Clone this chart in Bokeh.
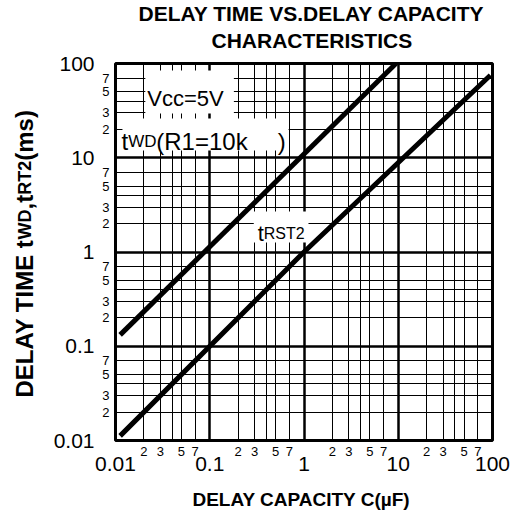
import math
from bokeh.plotting import figure
from bokeh.layouts import row
from bokeh.models import LogAxis, FixedTicker, Label, BoxAnnotation, Range1d, Title, ColumnDataSource
from bokeh.core.properties import value
from bokeh.embed import file_html
from bokeh.resources import INLINE

# ---------------- data ----------------
cap_twd = [0.0112, 9.46]          # C (uF)
time_twd = [0.132, 100.0]         # tWD (ms)
cap_trst2 = [0.0112, 1.0, 95.0]   # C (uF)
time_trst2 = [0.0112, 1.0, 75.0]  # tRST2 (ms)

decades = [0.01, 0.1, 1.0, 10.0, 100.0]
decade_labels = ["0.01", "0.1", "1", "10", "100"]
minor_label_digits = [2, 3, 5, 7]
minor_grid_digits = [2, 3, 4, 5, 7]

title_lines = ["DELAY TIME VS.DELAY CAPACITY", "CHARACTERISTICS"]
x_title = "DELAY CAPACITY  C(µF)"
y_title_parts = ["DELAY TIME t", "WD", ",t", "RT2", "(ms)"]


def mult(d, m):
    return float(f"{m}e{int(round(math.log10(d)))}")


minor_label_ticks = [mult(d, m) for d in decades[:-1] for m in minor_label_digits]
minor_label_text = [str(m) for d in decades[:-1] for m in minor_label_digits]
minor_grid_ticks = [mult(d, m) for d in decades[:-1] for m in minor_grid_digits]

# ---------------- layout ----------------
FONT = "Liberation Sans"
W, H = 532, 513
WL = 50                      # width of the strip that holds the y title
FL, FT, FR, FB = 113, 63, 492, 440   # frame edges in page pixels

# strip with the rotated, mixed-size y title (its frame is aligned with the main frame)
ylab = figure(width=WL, height=H, x_range=Range1d(0, WL), y_range=Range1d(FB, FT),
              min_border=0, output_backend="svg", toolbar_location=None,
              x_axis_location=None, y_axis_location=None)
ylab.grid.visible = False
ylab.outline_line_color = None
ylab.background_fill_color = "white"
ylab.border_fill_color = "white"
y_starts = [397, 239, 209, 194.3, 160.3]
y_sizes = ["24px", "18px", "24px", "18px", "24px"]
ysrc = ColumnDataSource(dict(x=[24] * len(y_title_parts), y=y_starts,
                             text=y_title_parts, size=y_sizes))
ylab.text(x="x", y="y", text="text", source=ysrc, angle=math.pi / 2,
          text_font=value(FONT), text_font_size="size", text_font_style="bold",
          text_align="left", text_baseline="alphabetic", text_color="black")

p = figure(width=W - WL, height=H, x_axis_type="log", y_axis_type="log",
           x_range=Range1d(0.01, 100), y_range=Range1d(0.01, 100),
           min_border_left=FL - WL, min_border_right=W - FR,
           min_border_top=FT, min_border_bottom=H - FB,
           output_backend="svg", toolbar_location=None)
p.background_fill_color = "white"
p.border_fill_color = "white"
p.outline_line_color = "black"
p.outline_line_width = 3

# two-line title: upper line = plot title (outer), lower line stacked nearer the frame
p.title.text = title_lines[0]
p.title.align = "left"
p.title.offset = 23
p.title.standoff = -20
p.title.text_font = FONT
p.title.text_font_size = "21px"
p.title.text_font_style = "bold"
p.title.text_color = "black"
t2 = Title(text=title_lines[1], align="left", offset=96, standoff=24,
           text_font=FONT, text_font_size="21px", text_font_style="bold",
           text_color="black", text_line_height=0.85)
p.add_layout(t2, "above")


def style_axis(ax, size, standoff):
    ax.axis_line_color = None
    ax.major_tick_line_color = None
    ax.minor_tick_line_color = None
    ax.major_tick_out = 0
    ax.major_tick_in = 0
    ax.minor_tick_out = 0
    ax.minor_tick_in = 0
    ax.major_label_text_font = FONT
    ax.major_label_text_font_size = f"{size}px"
    ax.major_label_text_color = "black"
    ax.major_label_standoff = standoff


# x axes: inner = minor digit labels, outer = decade labels
ax = p.xaxis[0]
ax.ticker = FixedTicker(ticks=minor_label_ticks, minor_ticks=[])
ax.major_label_overrides = dict(zip(minor_label_ticks, minor_label_text))
style_axis(ax, 13, 6)

axx = LogAxis(ticker=FixedTicker(ticks=decades, minor_ticks=[]),
              major_label_overrides=dict(zip(decades, decade_labels)),
              axis_label=x_title)
style_axis(axx, 21, -2)
axx.axis_label_text_font = FONT
axx.axis_label_text_font_size = "19px"
axx.axis_label_text_font_style = "bold"
axx.axis_label_text_color = "black"
axx.axis_label_text_line_height = 1.0
axx.axis_label_standoff = 15
p.add_layout(axx, "below")

# y axes
ay = p.yaxis[0]
ay.ticker = FixedTicker(ticks=minor_label_ticks, minor_ticks=[])
ay.major_label_overrides = dict(zip(minor_label_ticks, minor_label_text))
style_axis(ay, 13, 6)

ayy = LogAxis(ticker=FixedTicker(ticks=decades, minor_ticks=[]),
              major_label_overrides=dict(zip(decades, decade_labels)))
style_axis(ayy, 21, 5)
p.add_layout(ayy, "left")

# grids
for g in (p.xgrid[0], p.ygrid[0]):
    g.ticker = FixedTicker(ticks=decades, minor_ticks=minor_grid_ticks)
    g.grid_line_color = "black"
    g.grid_line_width = 2.5
    g.minor_grid_line_color = "black"
    g.minor_grid_line_width = 1


# page-pixel -> data helpers (frame: x 113..492, y 63..440)
def fx(px):
    return 10 ** (-2 + 4 * (px - FL) / (FR - FL))


def fy(py):
    return 10 ** (2 - 4 * (py - FT) / (FB - FT))


# white boxes behind in-plot texts
for l, r, t, b in [(143, 232, 70, 113), (120, 287, 118, 150), (252, 307, 211, 242)]:
    p.add_layout(BoxAnnotation(left=fx(l), right=fx(r), top=fy(t), bottom=fy(b),
                               fill_color="white", fill_alpha=1.0, line_color=None,
                               level="underlay"))

# data lines
p.line(cap_twd, time_twd, line_width=5, line_color="black")
p.line(cap_trst2, time_trst2, line_width=5, line_color="black")


def lab(px, py, text, size):
    p.add_layout(Label(x=fx(px), y=fy(py), text=text, text_font=FONT,
                       text_font_size=f"{size}px", text_align="left",
                       text_baseline="alphabetic", text_color="black"))


# in-plot annotations
lab(145, 98, "Vcc=5V", 22)
lab(119, 141, "t", 24)
lab(125.7, 141, "WD", 17)
lab(154, 141, "(R1=10k", 24)
lab(276, 141, ")", 24)
lab(256, 233, "t", 22)
lab(262, 233, "RST2", 16)

layout = row(ylab, p)
open("out.html", "w").write(file_html(layout, INLINE))
